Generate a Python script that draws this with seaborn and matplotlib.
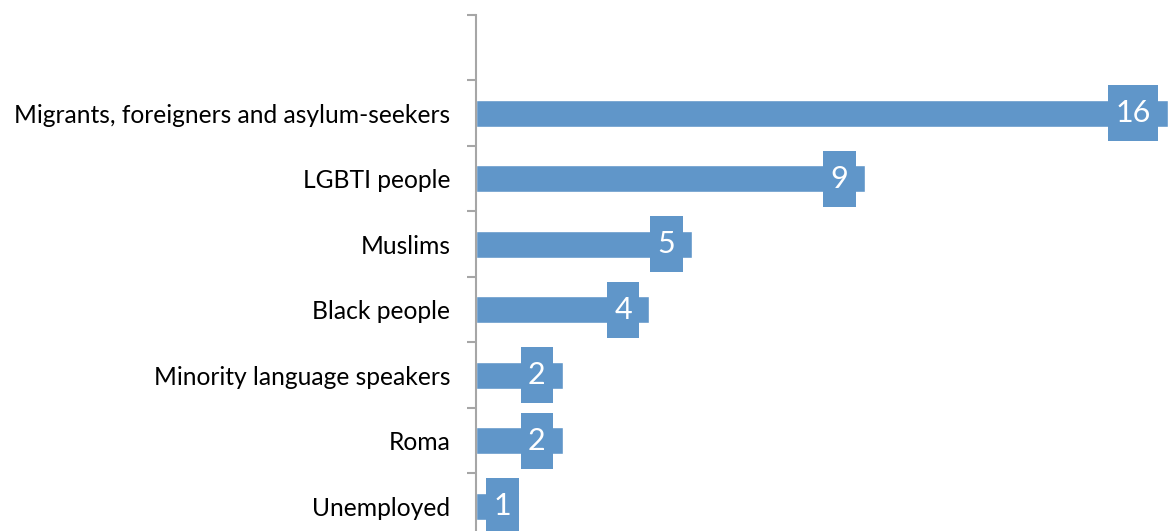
import pandas as pd
import seaborn as sns
import matplotlib.pyplot as plt
from matplotlib.ticker import FixedLocator

# Data
groups = ['Migrants, foreigners and asylum-seekers', 'LGBTI people', 'Muslims',
          'Black people', 'Minority language speakers', 'Roma', 'Unemployed']
counts = [16, 9, 5, 4, 2, 2, 1]

df = pd.DataFrame({'group': groups, 'count': counts})

sns.set_theme(style='white')
plt.rcParams['font.family'] = ['Lato', 'DejaVu Sans']

bar_color = '#6096C9'
axis_grey = '#A6A6A6'

fig = plt.figure(figsize=(11.68, 5.31), dpi=100)
ax = fig.add_axes([476 / 1168, 0, 692 / 1168, 1 - 15 / 531])

sns.barplot(data=df, x='count', y='group', order=groups, orient='h',
            color=bar_color, saturation=1, width=0.41, ax=ax)

ax.set_xlim(0, 16.0)
ax.set_ylim(6.38, -1.5)   # empty slot above the first bar, bottom is cut off
ax.set_xlabel('')
ax.set_ylabel('')
ax.set_xticks([])

# category labels at centres, tick marks at the slot boundaries
ax.tick_params(axis='y', which='major', length=0, pad=18.5, labelsize=17.7, labelcolor='black')
ax.yaxis.set_minor_locator(FixedLocator([i - 0.5 for i in range(-1, len(groups) + 1)]))
ax.tick_params(axis='y', which='minor', length=6.5, width=1.5, color=axis_grey, left=True)

for side in ['top', 'right', 'bottom']:
    ax.spines[side].set_visible(False)
ax.spines['left'].set_color(axis_grey)
ax.spines['left'].set_linewidth(1.5)

# value labels in boxes near the end of each bar
for i, v in enumerate(counts):
    off = -17 if v > 1 else -8
    ax.annotate(str(v), xy=(v, i), xytext=(off, 0), textcoords='offset pixels',
                ha='right', va='center', color='white', fontsize=22,
                annotation_clip=False,
                bbox=dict(boxstyle='square,pad=0.24', fc=bar_color, ec='none',
                          mutation_aspect=1.9))

fig.savefig('out.png', dpi=100)
